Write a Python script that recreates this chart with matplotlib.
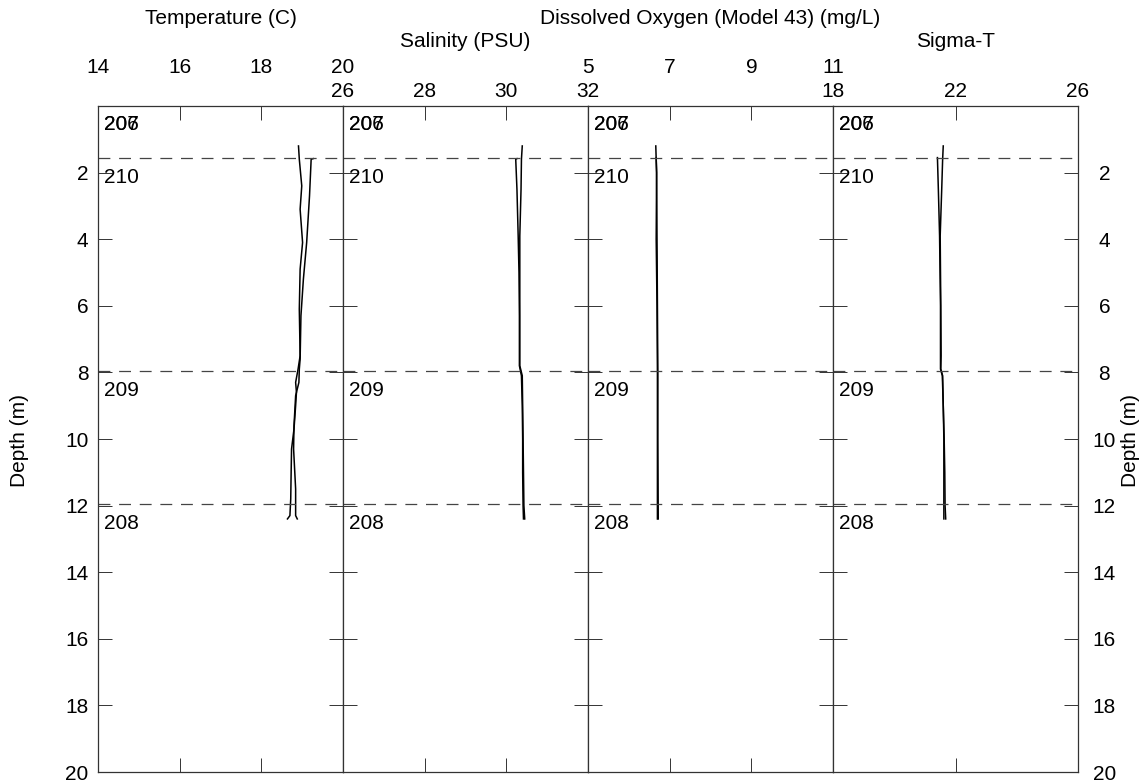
import numpy as np
import matplotlib.pyplot as plt

plt.rcParams['font.family'] = ['Liberation Sans', 'DejaVu Sans']

# profile data (two traces per variable: down and up cast)
temp_a_depth = [1.2, 1.6, 2.4, 3.1, 4.1, 4.9, 6.1, 7.5, 7.9, 8.3, 8.6, 9.0, 9.7, 10.3, 11.0, 11.8, 12.3, 12.4]
temp_a = [18.91, 18.93, 18.99, 18.95, 19.01, 18.95, 18.93, 18.95, 18.90, 18.84, 18.86, 18.84, 18.80, 18.74, 18.73, 18.72, 18.70, 18.64]
temp_b_depth = [12.4, 12.3, 11.5, 10.3, 9.6, 8.7, 8.3, 7.9, 7.6, 6.3, 5.2, 4.1, 2.7, 1.6, 1.58]
temp_b = [18.88, 18.84, 18.84, 18.79, 18.80, 18.84, 18.92, 18.93, 18.95, 18.97, 19.03, 19.11, 19.18, 19.22, 19.27]

sal_a_depth = [1.2, 1.6, 2.5, 3.9, 5.0, 6.3, 7.8, 8.1, 9.0, 10.0, 11.0, 12.0, 12.4]
sal_a = [30.39, 30.37, 30.36, 30.33, 30.33, 30.33, 30.33, 30.39, 30.40, 30.41, 30.42, 30.43, 30.45]
sal_b_depth = [12.4, 12.0, 11.0, 10.0, 9.0, 8.1, 7.8, 6.3, 5.0, 3.9, 2.5, 1.6, 1.58]
sal_b = [30.42, 30.41, 30.40, 30.40, 30.39, 30.37, 30.32, 30.32, 30.31, 30.29, 30.26, 30.23, 30.26]

do_a_depth = [1.2, 2.0, 4.0, 6.0, 8.0, 10.0, 12.4]
do_a = [6.66, 6.68, 6.69, 6.70, 6.71, 6.71, 6.72]
do_b_depth = [12.4, 10.0, 8.0, 6.0, 4.0, 2.0, 1.55]
do_b = [6.70, 6.70, 6.70, 6.69, 6.67, 6.68, 6.67]

sig_a_depth = [1.2, 1.6, 2.5, 3.9, 5.0, 6.0, 7.5, 7.9, 8.1, 9.0, 10.0, 11.0, 12.0, 12.4]
sig_a = [21.60, 21.58, 21.55, 21.50, 21.51, 21.52, 21.53, 21.52, 21.58, 21.60, 21.63, 21.65, 21.66, 21.68]
sig_b_depth = [12.4, 12.0, 11.0, 10.0, 9.0, 8.1, 7.9, 6.0, 3.9, 2.5, 1.55]
sig_b = [21.62, 21.62, 21.62, 21.62, 21.60, 21.57, 21.51, 21.51, 21.48, 21.44, 21.41]

# cast boundaries and their labels
cast_tops = [1.55, 7.95, 11.95]
cast_labels = ['210', '209', '208']

titles = ['Temperature (C)', 'Salinity (PSU)', 'Dissolved Oxygen (Model 43) (mg/L)', 'Sigma-T']
xlims = [(14, 20), (26, 32), (5, 11), (18, 26)]
xticks = [[14, 16, 18, 20], [26, 28, 30, 32], [5, 7, 9, 11], [18, 22, 26]]
depth_ticks = list(range(2, 21, 2))

series = [
    [(temp_a, temp_a_depth), (temp_b, temp_b_depth)],
    [(sal_a, sal_a_depth), (sal_b, sal_b_depth)],
    [(do_a, do_a_depth), (do_b, do_b_depth)],
    [(sig_a, sig_a_depth), (sig_b, sig_b_depth)],
]

W, H = 1143, 783
fig = plt.figure(figsize=(W / 100, H / 100), dpi=100)
fs = 15
edge = '#333333'

for i in range(4):
    ax = fig.add_axes([(98 + i * 245) / W, (H - 772) / H, 245 / W, 666 / H])
    ax.set_xlim(*xlims[i])
    ax.set_ylim(20, 0)
    for s in ax.spines.values():
        s.set_color(edge)
        s.set_linewidth(0.9)

    for x, d in series[i]:
        ax.plot(x, d, color='black', lw=1.1)

    for d in cast_tops:
        ax.axhline(d, color='#444444', lw=0.9, ls=(0, (9.5, 7)))

    # cast numbers
    tr = ax.get_yaxis_transform()
    ax.text(0.025, 0.57, '206', transform=tr, fontsize=fs, va='center')
    ax.text(0.025, 0.57, '207', transform=tr, fontsize=fs, va='center')
    for d, lab in zip(cast_tops, cast_labels):
        ax.text(0.025, d + 0.6, lab, transform=tr, fontsize=fs, va='center')

    ax.set_xticks(xticks[i])
    ax.set_xticklabels([str(v) for v in xticks[i]])
    pad = 21 if i in (0, 2) else 3.6
    ax.tick_params(axis='x', direction='in', length=10, width=0.7, color=edge,
                   top=True, bottom=True, labeltop=True, labelbottom=False,
                   labelsize=fs, pad=pad)

    ax.set_yticks(depth_ticks)
    ax.tick_params(axis='y', direction='in', length=10, width=0.7, color=edge,
                   left=True, right=True, labelleft=(i == 0), labelright=(i == 3),
                   labelsize=fs, pad=7)
    if i == 3:
        ax.set_yticklabels([str(v) for v in depth_ticks], ha='center')
        ax.tick_params(axis='y', pad=19)

    row_y = 24 if i in (0, 2) else 47
    fig.text((98 + i * 245 + 122.5) / W, 1 - row_y / H, titles[i],
             ha='center', va='baseline', fontsize=fs)

fig.text(20 / W, 1 - 440 / H, 'Depth (m)', rotation=90, ha='center', va='center', fontsize=fs)
fig.text(1131 / W, 1 - 440 / H, 'Depth (m)', rotation=90, ha='center', va='center', fontsize=fs)

fig.savefig('out.png', dpi=100)
